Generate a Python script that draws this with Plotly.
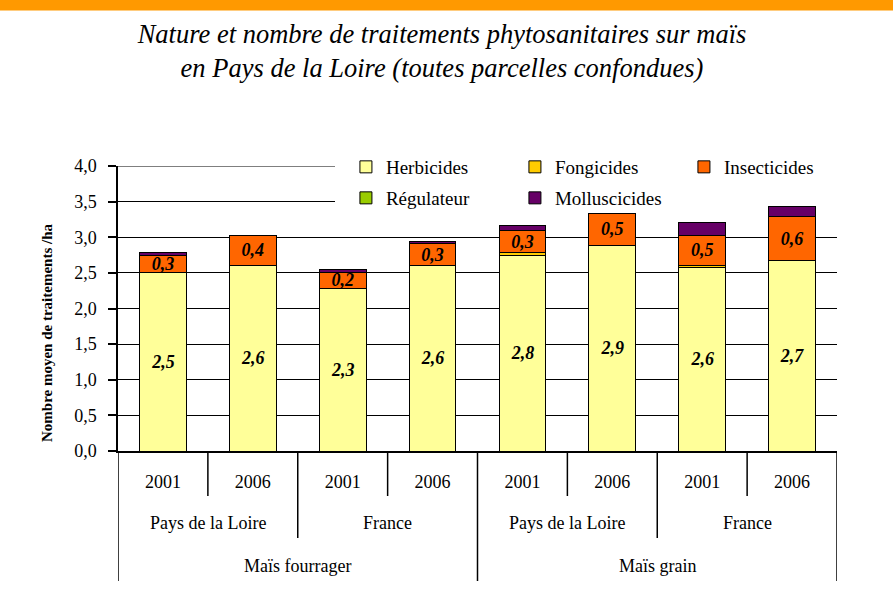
import plotly.graph_objects as go

# ---------------- data ----------------
years = ["2001", "2006", "2001", "2006", "2001", "2006", "2001", "2006"]
regions = ["Pays de la Loire", "Pays de la Loire", "France", "France",
           "Pays de la Loire", "Pays de la Loire", "France", "France"]
crops = ["Maïs fourrager"] * 4 + ["Maïs grain"] * 4

herbicides = [2.5, 2.6, 2.28, 2.6, 2.75, 2.88, 2.58, 2.67]
fongicides = [None, None, None, None, 0.03, None, 0.03, None]
regulateur = [None] * 8
insecticides = [0.25, 0.43, 0.23, 0.31, 0.32, 0.46, 0.41, 0.62]
molluscicides = [0.04, None, 0.04, 0.03, 0.07, None, 0.19, 0.14]

herb_labels = ["2,5", "2,6", "2,3", "2,6", "2,8", "2,9", "2,6", "2,7"]
insect_labels = ["0,3", "0,4", "0,2", "0,3", "0,3", "0,5", "0,5", "0,6"]

y_ticks = [0, 0.5, 1.0, 1.5, 2.0, 2.5, 3.0, 3.5, 4.0]

# ---------------- styling ----------------
FONT = "Liberation Serif, Times New Roman, Times, serif"
W, H = 893, 599
ML, MR, MT, MB = 118, 56, 166, 148
PH = H - MT - MB
PW = W - ML - MR

x = list(range(len(years)))
line = dict(color="black", width=1)
lblfont = dict(family=FONT, size=18, color="black", weight="bold", style="italic")

fig = go.Figure()
series = [
    ("Herbicides", herbicides, "#FFFF99", herb_labels, "legend"),
    ("Fongicides", fongicides, "#FFCC00", None, "legend"),
    ("Régulateur", regulateur, "#99CC00", None, "legend2"),
    ("Insecticides", insecticides, "#FF6600", insect_labels, "legend"),
    ("Molluscicides", molluscicides, "#660066", None, "legend2"),
]
for name, vals, col, txt, lg in series:
    fig.add_trace(go.Bar(
        x=x, y=vals, name=name, legend=lg,
        marker=dict(color=col, line=line),
        text=txt, textposition="inside" if txt else "none",
        insidetextanchor="middle", textangle=0,
        textfont=lblfont, hoverinfo="skip",
    ))

# ---------------- hierarchical category axis ----------------
def px_to_paper(py):
    return (H - MB - py) / PH

short_y = px_to_paper(496)
mid_y = px_to_paper(538)
long_y = px_to_paper(581)
shapes = []
n = len(years)
for b in range(n + 1):
    if b == 0 or b == n or crops[b - 1] != crops[b]:
        y1 = long_y
    elif regions[b - 1] != regions[b]:
        y1 = mid_y
    else:
        y1 = short_y
    shapes.append(dict(type="line", xref="x", yref="paper", x0=b - 0.5, x1=b - 0.5,
                       y0=0, y1=y1, line=dict(color="black", width=1.5)))

annotations = []
i = 0
while i < n:
    j = i
    while j + 1 < n and regions[j + 1] == regions[i] and crops[j + 1] == crops[i]:
        j += 1
    annotations.append(dict(x=(i + j) / 2, y=px_to_paper(523), xref="x", yref="paper",
                            text=regions[i], showarrow=False, yanchor="middle",
                            font=dict(family=FONT, size=18, color="black")))
    i = j + 1
i = 0
while i < n:
    j = i
    while j + 1 < n and crops[j + 1] == crops[i]:
        j += 1
    annotations.append(dict(x=(i + j) / 2, y=px_to_paper(566), xref="x", yref="paper",
                            text=crops[i], showarrow=False, yanchor="middle",
                            font=dict(family=FONT, size=18, color="black")))
    i = j + 1

# y-axis title (placed lower than centre, as in the original)
annotations.append(dict(x=(47 - ML) / PW, y=px_to_paper(333), xref="paper", yref="paper",
                        text="Nombre moyen de traitements /ha", textangle=-90,
                        showarrow=False, xanchor="center", yanchor="middle",
                        font=dict(family=FONT, size=15, color="black", weight="bold")))

# white box behind the legend (covers grid lines, drawn below the bars)
box_left = -0.5 + (335 - ML) / PW * n
shapes.append(dict(type="rect", xref="x", yref="y", x0=box_left, x1=n, y0=3.47, y1=4.2,
                   fillcolor="white", line=dict(width=0), layer="between"))
# top grid line (left of the legend box)
shapes.append(dict(type="line", xref="x", yref="y", x0=-0.5, x1=box_left,
                   y0=max(y_ticks), y1=max(y_ticks), line=dict(color="black", width=1)))
# orange band on top
shapes.append(dict(type="rect", xref="paper", yref="paper", x0=-ML / PW - 0.01,
                   x1=1 + MR / PW + 0.01,
                   y0=px_to_paper(10.5), y1=px_to_paper(-2),
                   fillcolor="#FF9900", line=dict(width=0)))

fig.update_layout(
    width=W, height=H,
    margin=dict(l=ML, r=MR, t=MT, b=MB),
    paper_bgcolor="white", plot_bgcolor="white",
    barmode="stack", bargap=0.48,
    separators=", ",
    font=dict(family=FONT, size=18, color="black"),
    uniformtext=dict(minsize=18, mode="show"),
    title=dict(
        text="Nature et nombre de traitements phytosanitaires sur maïs<br>en Pays de la Loire (toutes parcelles confondues)",
        font=dict(family=FONT, size=26.5, color="black", style="italic"),
        x=442 / W, xanchor="center", xref="container",
        y=1 - 43 / H, yanchor="middle", yref="container",
    ),
    xaxis=dict(
        range=[-0.5, n - 0.5], tickvals=x, ticktext=years,
        showline=True, linecolor="black", linewidth=1.5,
        ticks="outside", ticklen=14, tickcolor="rgba(0,0,0,0)",
        showgrid=False, zeroline=False, fixedrange=True,
        tickfont=dict(family=FONT, size=18, color="black"),
    ),
    yaxis=dict(
        range=[0, 4.0], tickvals=y_ticks, tickformat=".1f",
        showline=True, linecolor="black", linewidth=1.5,
        ticks="outside", ticklen=8, tickcolor="black", tickwidth=1.5,
        showgrid=True, gridcolor="black", gridwidth=1,
        zeroline=False, fixedrange=True, ticklabelstandoff=8,
        tickfont=dict(family=FONT, size=18, color="black"),
    ),
    legend=dict(orientation="h", x=0.317, xanchor="left", y=px_to_paper(167), yanchor="middle",
                bgcolor="rgba(0,0,0,0)", entrywidth=124, entrywidthmode="pixels",
                font=dict(family=FONT, size=19, color="black"), traceorder="normal"),
    legend2=dict(orientation="h", x=0.317, xanchor="left", y=px_to_paper(198), yanchor="middle",
                 bgcolor="rgba(0,0,0,0)", entrywidth=124, entrywidthmode="pixels",
                 font=dict(family=FONT, size=19, color="black"), traceorder="normal"),
    shapes=shapes, annotations=annotations,
    showlegend=True,
)

fig.write_html("out.html", config={"displayModeBar": False},
               post_script="document.body.style.margin='0';")
